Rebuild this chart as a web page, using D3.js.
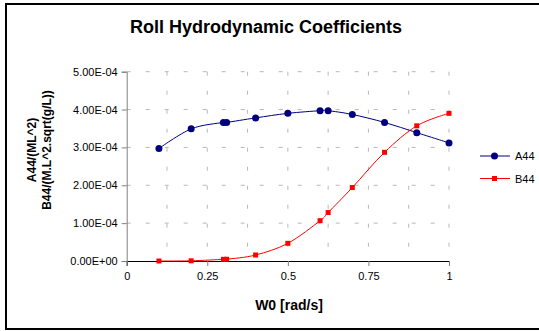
<html lang="en">
<head>
<title>Roll Hydrodynamic Coefficients</title>
<script src="https://d3js.org/d3.v7.min.js"></script>
<style>
  body { margin: 0; background: #fff; }
  text { font-family: "Liberation Sans", Arial, sans-serif; }
</style>
</head>
<body>
<div id="chart"></div>
<script>
// data
var w0 = [0.1, 0.2, 0.3, 0.31, 0.4, 0.5, 0.6, 0.625, 0.7, 0.8, 0.9, 1.0];
var a44 = [2.97e-4, 3.49e-4, 3.66e-4, 3.66e-4, 3.78e-4, 3.90e-4, 3.97e-4, 3.97e-4, 3.87e-4, 3.66e-4, 3.39e-4, 3.12e-4];
var b44 = [0.0, 0.5e-6, 4.4e-6, 4.6e-6, 1.58e-5, 4.67e-5, 1.065e-4, 1.28e-4, 1.94e-4, 2.87e-4, 3.57e-4, 3.90e-4];
var xTicks = [0, 0.25, 0.5, 0.75, 1];
var xGrid = [0.125, 0.25, 0.375, 0.5, 0.625, 0.75, 0.875, 1];
var yTicks = [0, 1e-4, 2e-4, 3e-4, 4e-4, 5e-4];
var seriesNames = ["A44", "B44"];

var width = 539, height = 331;
var margin = {top: 71.7, right: 90, bottom: 70, left: 126.7};
var plotW = 449 - margin.left, plotH = 261 - margin.top;

var svg = d3.select("#chart").append("svg")
  .attr("width", width)
  .attr("height", height);

// outer frame
svg.append("rect")
  .attr("x", 6).attr("y", 4)
  .attr("width", 545).attr("height", 325)
  .attr("fill", "none")
  .attr("stroke", "#000")
  .attr("stroke-width", 2);

svg.append("text")
  .attr("x", 266).attr("y", 33)
  .attr("text-anchor", "middle")
  .style("font-size", "18px").style("font-weight", "bold")
  .text("Roll Hydrodynamic Coefficients");

var g = svg.append("g")
  .attr("transform", "translate(" + margin.left + "," + margin.top + ")");

var x = d3.scaleLinear().domain([0, 1]).range([0, plotW]);
var y = d3.scaleLinear().domain([0, 5e-4]).range([plotH, 0]);

function sci(v) {
  if (v === 0) return "0.00E+00";
  var s = v.toExponential(2).split("e");
  var e = +s[1];
  var es = (e < 0 ? "-" : "+") + (Math.abs(e) < 10 ? "0" : "") + Math.abs(e);
  return s[0] + "E" + es;
}

// grid
g.selectAll(".hgrid").data(yTicks.slice(1)).enter().append("line")
  .attr("x1", 0).attr("x2", plotW)
  .attr("y1", function(d) { return y(d); }).attr("y2", function(d) { return y(d); })
  .attr("stroke", "#b8b8b8").attr("stroke-dasharray", "4,15");
g.selectAll(".vgrid").data(xGrid).enter().append("line")
  .attr("x1", function(d) { return x(d); }).attr("x2", function(d) { return x(d); })
  .attr("y1", 0).attr("y2", plotH)
  .attr("stroke", "#b8b8b8").attr("stroke-dasharray", "4,15");

// y axis
var yAxis = g.append("g")
  .call(d3.axisLeft(y).tickValues(yTicks).tickFormat(sci).tickSizeOuter(0).tickSize(5).tickPadding(4));
yAxis.select(".domain").attr("stroke", "#808080");
yAxis.selectAll(".tick line").attr("stroke", "#808080");
yAxis.selectAll("text").style("font-size", "11px").attr("fill", "#000")
  .style("font-family", "'Liberation Sans', Arial, sans-serif");

// x axis
var xAxis = g.append("g")
  .attr("transform", "translate(0," + plotH + ")")
  .call(d3.axisBottom(x).tickValues(xTicks).tickFormat(d3.format("")).tickSizeOuter(0).tickSize(5).tickPadding(6));
xAxis.select(".domain").attr("stroke", "#000");
xAxis.selectAll(".tick line").attr("stroke", "#808080");
xAxis.selectAll("text").style("font-size", "11px").attr("fill", "#000")
  .style("font-family", "'Liberation Sans', Arial, sans-serif");

// axis titles
svg.append("text")
  .attr("x", 289).attr("y", 310)
  .attr("text-anchor", "middle")
  .style("font-size", "14px").style("font-weight", "bold")
  .text("W0 [rad/s]");

var yt = svg.append("text")
  .attr("transform", "translate(36,150) rotate(-90)")
  .attr("text-anchor", "middle")
  .style("font-size", "12px").style("font-weight", "bold");
yt.append("tspan").attr("x", 0).attr("y", 0).text("A44/(ML^2)");
yt.append("tspan").attr("x", 0).attr("y", 15).text("B44/(M.L^2.sqrt(g/L))");

var line = d3.line().curve(d3.curveCardinal.tension(0))
  .x(function(d) { return x(d[0]); })
  .y(function(d) { return y(d[1]); });

var aData = w0.map(function(d, i) { return [d, a44[i]]; });
var bData = w0.map(function(d, i) { return [d, b44[i]]; });

g.append("path").datum(aData).attr("d", line)
  .attr("fill", "none").attr("stroke", "#000080").attr("stroke-width", 1);
g.append("path").datum(bData).attr("d", line)
  .attr("fill", "none").attr("stroke", "#ff0000").attr("stroke-width", 1);

g.selectAll(".pa").data(aData).enter().append("circle")
  .attr("cx", function(d) { return x(d[0]); })
  .attr("cy", function(d) { return y(d[1]); })
  .attr("r", 3.5).attr("fill", "#000080");
g.selectAll(".pb").data(bData).enter().append("rect")
  .attr("x", function(d) { return x(d[0]) - 2.5; })
  .attr("y", function(d) { return y(d[1]) - 2.5; })
  .attr("width", 5).attr("height", 5).attr("fill", "#ff0000");

// legend
var legend = svg.append("g").attr("transform", "translate(480,156)");
var colors = ["#000080", "#ff0000"];
seriesNames.forEach(function(name, i) {
  var row = legend.append("g").attr("transform", "translate(0," + (i * 22.5) + ")");
  row.append("line").attr("x1", 0).attr("x2", 30).attr("y1", 0).attr("y2", 0)
    .attr("stroke", colors[i]).attr("stroke-width", 1);
  if (i === 0) {
    row.append("circle").attr("cx", 14.5).attr("cy", 0).attr("r", 3.5).attr("fill", colors[i]);
  } else {
    row.append("rect").attr("x", 12).attr("y", -2.5).attr("width", 5).attr("height", 5).attr("fill", colors[i]);
  }
  row.append("text").attr("x", 35).attr("y", 4)
    .style("font-size", "11px").text(name);
});
</script>
</body>
</html>
